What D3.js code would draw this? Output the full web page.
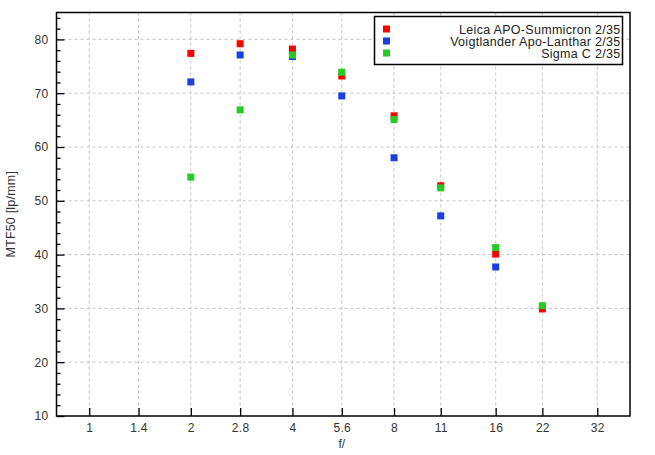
<!DOCTYPE html>
<html>
<head>
<meta charset="utf-8">
<script src="https://cdn.jsdelivr.net/npm/d3@7"></script>
<style>
  body { margin: 0; background: #fff; }
  svg { display: block; font-family: "Liberation Sans", Arial, sans-serif; }
</style>
</head>
<body>
<div class="graph"></div>
<script>
// f-stops on the axis and the ones that were measured
const xTicks = [1, 1.4, 2, 2.8, 4, 5.6, 8, 11, 16, 22, 32];
const apertures = [2, 2.8, 4, 5.6, 8, 11, 16, 22];

// MTF50 in lp/mm
const leica = [77.4, 79.2, 78.2, 73.2, 65.8, 52.8, 40.1, 29.9];
const voigtlander = [72.1, 77.1, 76.8, 69.5, 58.0, 47.2, 37.7, null];
const sigma = [54.4, 66.9, 77.1, 73.9, 65.1, 52.4, 41.3, 30.5];

const seriesNames = [
  "Leica APO-Summicron 2/35",
  "Voigtlander Apo-Lanthar 2/35",
  "Sigma C 2/35",
];
const seriesColors = ["#ff0000", "#1a3fe0", "#22cc22"];

const totalWidth = 655;
const totalHeight = 455;
const margins = { top: 12.5, right: 25, bottom: 39, left: 56.5 };
const width = totalWidth - margins.left - margins.right;
const height = totalHeight - margins.top - margins.bottom;

const svg = d3
  .select(".graph")
  .append("svg")
  .attr("width", totalWidth)
  .attr("height", totalHeight);

const g = svg
  .append("g")
  .attr("transform", `translate(${margins.left},${margins.top})`);

const x = d3.scaleLog().base(2).domain([0.8, 40]).range([0, width]);
const y = d3.scaleLinear().domain([10, 85]).range([height, 0]);

const yMajor = d3.range(10, 81, 10);
const yMinor = d3.range(12, 85, 2).filter((v) => v % 10 !== 0);

// grid
g.append("g")
  .selectAll("line")
  .data(xTicks)
  .join("line")
  .attr("x1", (d) => x(d))
  .attr("x2", (d) => x(d))
  .attr("y1", 0)
  .attr("y2", height)
  .attr("stroke", "#c4c4c4")
  .attr("stroke-dasharray", "3,3");

g.append("g")
  .selectAll("line")
  .data(yMajor.slice(1))
  .join("line")
  .attr("x1", 0)
  .attr("x2", width)
  .attr("y1", (d) => y(d))
  .attr("y2", (d) => y(d))
  .attr("stroke", "#c4c4c4")
  .attr("stroke-dasharray", "3,3");

// axes, ticks drawn inward
const xAxis = d3
  .axisBottom(x)
  .tickValues(xTicks)
  .tickFormat((d) => d)
  .tickSize(-8)
  .tickPadding(7);

const yAxis = d3.axisLeft(y).tickValues(yMajor).tickSize(-8).tickPadding(8);

const xg = g
  .append("g")
  .attr("transform", `translate(0,${height})`)
  .call(xAxis);
const yg = g.append("g").call(yAxis);

g.append("g")
  .call(d3.axisLeft(y).tickValues(yMinor).tickSize(-4).tickFormat(""))
  .call((s) => s.select(".domain").remove());

[xg, yg].forEach((s) => {
  s.select(".domain").remove();
  s.selectAll("text")
    .attr("font-size", 12)
    .attr("letter-spacing", 0.3)
    .attr("fill", "#333")
    .attr("font-family", "'Liberation Sans', Arial, sans-serif");
});
g.selectAll(".tick line").attr("stroke", "#000").attr("stroke-width", 1.3);

// frame
g.append("rect")
  .attr("width", width)
  .attr("height", height)
  .attr("fill", "none")
  .attr("stroke", "#000")
  .attr("stroke-width", 1.5);

// points
const allSeries = [leica, voigtlander, sigma];
const markerSize = 7;
allSeries.forEach((values, i) => {
  const pts = apertures
    .map((f, j) => ({ f, v: values[j] }))
    .filter((d) => d.v != null);
  g.append("g")
    .selectAll("rect")
    .data(pts)
    .join("rect")
    .attr("x", (d) => x(d.f) - markerSize / 2)
    .attr("y", (d) => y(d.v) - markerSize / 2)
    .attr("width", markerSize)
    .attr("height", markerSize)
    .attr("fill", seriesColors[i]);
});

// legend
const legend = svg.append("g").attr("transform", "translate(374.5,16.5)");
legend
  .append("rect")
  .attr("width", 248)
  .attr("height", 48)
  .attr("fill", "#fff")
  .attr("stroke", "#000")
  .attr("stroke-width", 1.5);

seriesNames.forEach((name, i) => {
  const row = legend.append("g").attr("transform", `translate(0,${12.5 + i * 12})`);
  row
    .append("rect")
    .attr("x", 8.5)
    .attr("y", -3.5)
    .attr("width", markerSize)
    .attr("height", markerSize)
    .attr("fill", seriesColors[i]);
  row
    .append("text")
    .attr("x", 246)
    .attr("y", 4.5)
    .attr("text-anchor", "end")
    .attr("font-size", 12.5)
    .attr("letter-spacing", 0.3)
    .attr("fill", "#222")
    .text(name);
});

// axis labels
svg
  .append("text")
  .attr("x", margins.left + x(5.6))
  .attr("y", 448)
  .attr("text-anchor", "middle")
  .attr("font-size", 12)
  .attr("fill", "#333")
  .text("f/");

svg
  .append("text")
  .attr("transform", `translate(15,${margins.top + height / 2}) rotate(-90)`)
  .attr("text-anchor", "middle")
  .attr("font-size", 12.5)
  .attr("letter-spacing", 0.2)
  .attr("fill", "#333")
  .text("MTF50 [lp/mm]");
</script>
</body>
</html>
